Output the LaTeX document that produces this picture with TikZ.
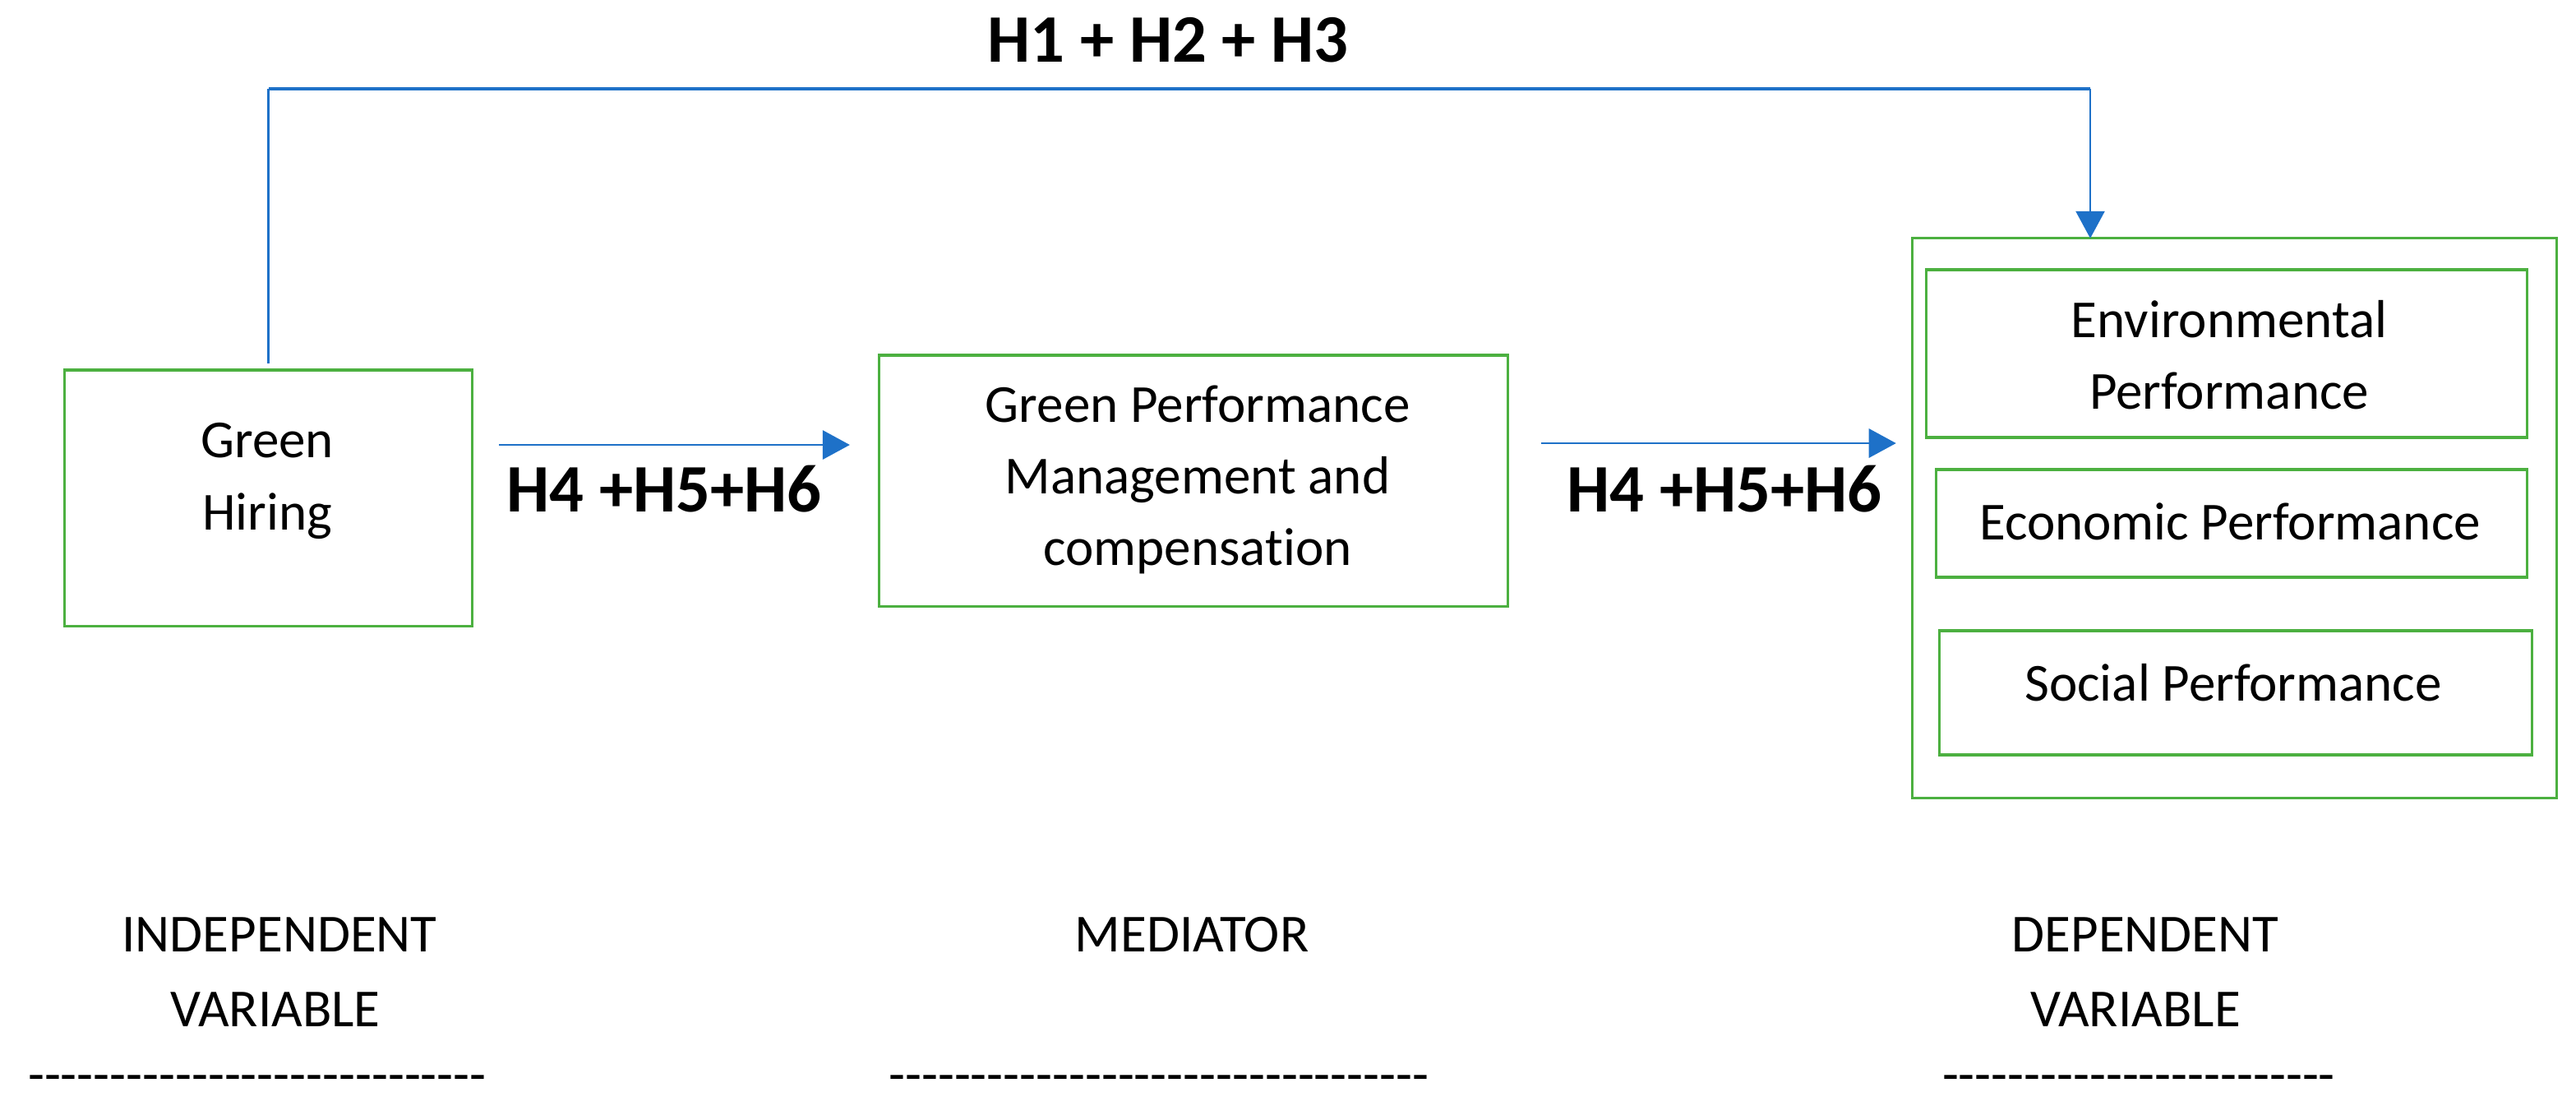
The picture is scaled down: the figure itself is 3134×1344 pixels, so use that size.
\documentclass[tikz,border=0pt]{standalone}
\usepackage{fontspec}
\setmainfont{Carlito}[Ligatures={TeX,NoCommon}]
\usetikzlibrary{arrows.meta}
\definecolor{boxgreen}{RGB}{76,176,64}
\definecolor{linkblue}{RGB}{30,113,200}
\begin{document}
\begin{tikzpicture}[x=0.01cm,y=-0.01cm,
  box/.style={draw=boxgreen, line width=0.9pt, inner sep=0pt, outer sep=0pt},
  txt/.style={font=\fontsize{18.5}{22}\selectfont, inner sep=0pt, anchor=base},
  hyp/.style={font=\fontsize{23.5}{28}\selectfont\bfseries, inner sep=0pt, anchor=base},
  flow/.style={draw=linkblue, line width=0.8pt, -{Triangle[length=9.4pt,width=10pt]}},
  thinlink/.style={draw=linkblue, line width=0.6pt},
  thicklink/.style={draw=linkblue, line width=0.95pt}]
\useasboundingbox (0,0) rectangle (3134,1344);

% boxes
\node[box, minimum width=4.95cm, minimum height=3.11cm] (gh) at (326.5,605.5) {};
\node[box, minimum width=7.64cm, minimum height=3.05cm] (med) at (1452,584.5) {};
\node[box, minimum width=7.83cm, minimum height=6.80cm] (dep) at (2718.5,630) {};
\node[box, minimum width=7.30cm, minimum height=2.04cm] (env) at (2709,430) {};
\node[box, minimum width=7.18cm, minimum height=1.31cm] (eco) at (2715,636.5) {};
\node[box, minimum width=7.20cm, minimum height=1.51cm] (soc) at (2720,842.5) {};

% box texts
\node[txt] (gh1) at (325,556) {Green};
\node[txt] (gh2) at (325,644) {Hiring};
\node[txt] (med1) at (1457,513) {Green Performance};
\node[txt] (med2) at (1457,600) {Management and};
\node[txt] (med3) at (1457,687) {compensation};
\node[txt] (env1) at (2712,410) {Environmental};
\node[txt] (env2) at (2712,497) {Performance};
\node[txt] (eco1) at (2713,656) {Economic Performance};
\node[txt] (soc1) at (2717,852) {Social Performance};

% hypothesis labels
\node[hyp] (htop) at (1421,75) {H1 + H2 + H3};
\node[hyp] (hl1) at (808,622) {H4 +H5+H6};
\node[hyp] (hl2) at (2098,622) {H4 +H5+H6};

% connectors
\coordinate (ya) at (0,541);
\coordinate (yb) at (0,539);
\coordinate (yt) at (0,108);
\coordinate (tl) at (gh.north |- yt);
\coordinate (tr) at (2543,108);
\draw[flow, shorten <=9.4pt, shorten >=10.2pt] (gh.east |- ya) -- (med.west |- ya);
\draw[flow, shorten <=11.5pt, shorten >=5.7pt] (med.east |- yb) -- (dep.west |- yb);
\draw[thinlink, shorten <=2.3pt] (gh.north) -- (tl);
\draw[thicklink] (tl) -- (tr);
\draw[flow, line width=0.6pt] (tr) -- (tr |- dep.north);

% bottom captions
\node[txt] (c1a) at (340,1157) {INDEPENDENT};
\node[txt] (c1b) at (335,1248) {VARIABLE};
\node[txt] (c2a) at (1450,1157) {MEDIATOR};
\node[txt] (c3a) at (2610,1157) {DEPENDENT};
\node[txt] (c3b) at (2598,1248) {VARIABLE};
\node[txt] (d1) at (313,1328) {\hbox to 5.74cm{\cleaders\hbox{-}\hfill}};
\node[txt] (d2) at (1410,1328) {\hbox to 6.76cm{\cleaders\hbox{-}\hfill}};
\node[txt] (d3) at (2602,1328) {\hbox to 4.90cm{\cleaders\hbox{-}\hfill}};
\end{tikzpicture}
\end{document}
